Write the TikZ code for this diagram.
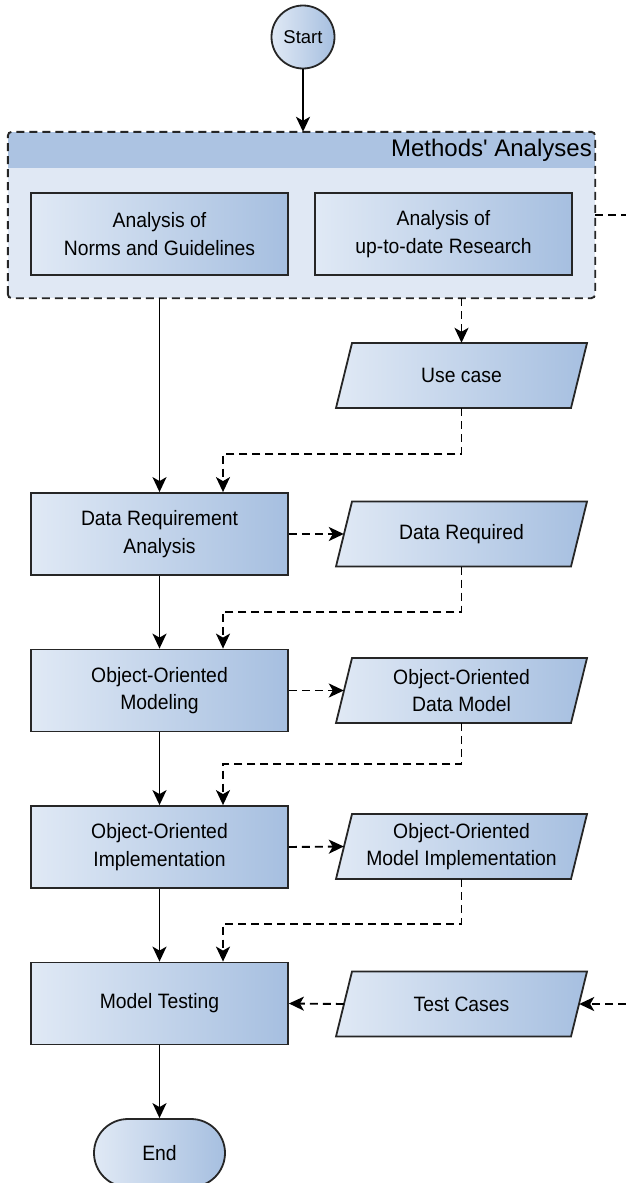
\documentclass[tikz,border=0pt]{standalone}
\usepackage{fontspec}
\setmainfont{Liberation Sans}[Ligatures=TeXOff]
\newfontfamily\bodyfont{Liberation Sans}[FakeStretch=0.93, Ligatures=TeXOff]
\usetikzlibrary{arrows.meta,calc}
\definecolor{lite}{RGB}{224,233,245}
\definecolor{dark}{RGB}{166,191,224}
\definecolor{bodyc}{RGB}{224,232,244}
\definecolor{headc}{RGB}{172,195,226}
\definecolor{edge}{RGB}{38,38,38}
\newcommand\paranode[4]{%
  \path[parashape] (#2-125.5,#3+32.5) -- (#2+109.5,#3+32.5) -- (#2+125.5,#3-32.5) -- (#2-109.5,#3-32.5) -- cycle;
  \node[paratext] (#1) at (#2,#3) {#4};}
\begin{document}
\begin{tikzpicture}[x=1pt,y=-1pt,
  txt/.style={font=\bodyfont\fontsize{20.8}{27.5}\selectfont, align=center, inner sep=0pt},
  shade/.style={left color=lite, right color=dark},
  box/.style={txt, shade, draw=edge, line width=1.8pt, minimum width=257pt, minimum height=82pt},
  parashape/.style={shade, draw=edge, line width=1.8pt, line join=miter},
  paratext/.style={txt, minimum width=235pt, minimum height=65pt},
  arr/.style={-{Stealth[length=15pt,width=14pt,inset=4pt]}, line width=1.9pt, draw=black},
  darr/.style={arr, dash pattern=on 8pt off 5pt}]
\clip (0,0) rectangle (626,1183);
\fill[white] (0,0) rectangle (626,1183);
% Start
\node[circle, shade, draw=edge, line width=1.8pt, minimum size=63pt, inner sep=0pt,
      font=\fontsize{18.5}{22}\selectfont] (start) at (303,37) {Start};
% container
\node[minimum width=587pt, minimum height=166pt, fill=bodyc, inner sep=0pt] (methods) at (301.5,215) {};
\begin{scope}
  \clip[rounded corners=4pt] (methods.south west) rectangle (methods.north east);
  \fill[headc] (methods.north west) rectangle ($(methods.north east)+(0,36)$);
\end{scope}
\draw[edge, line width=1.9pt, dash pattern=on 8pt off 5pt, rounded corners=4pt]
  (methods.south west) rectangle (methods.north east);
\node[anchor=east, inner sep=0pt, font=\fontsize{24}{28}\selectfont] (mtitle) at (592,150) {Methods' Analyses};
\node[box] (norms) at (159.5,234) {Analysis of\\Norms and Guidelines};
\node[box] (research) at (443.5,234) {Analysis of\\up-to-date Research};
% main column
\node[box] (dra) at (159.5,534) {Data Requirement\\Analysis};
\node[box] (oom) at (159.5,690.5) {Object-Oriented\\Modeling};
\node[box] (ooi) at (159.5,847) {Object-Oriented\\Implementation};
\node[box] (mt) at (159.5,1003.5) {Model Testing};
\node[txt, shade, draw=edge, line width=1.8pt, minimum width=131pt, minimum height=68pt,
      rounded corners=34pt] (end) at (159.5,1153) {End};
% data column
\paranode{usecase}{461.5}{375.5}{Use case}
\paranode{datareq}{461.5}{534}{Data Required}
\paranode{oodm}{461.5}{690.5}{Object-Oriented\\Data Model}
\paranode{oomi}{461.5}{846.5}{Object-Oriented\\Model Implementation}
\paranode{testcases}{461.5}{1004}{Test Cases}
% connectors
\draw[arr] (start.south) -- (methods.north -| start.south);
\draw[arr] (methods.south -| dra.north) -- (dra.north);
\draw[darr] (methods.south -| usecase.north) -- (usecase.north);
\draw[darr] (usecase.south) |- ($(dra.north)+(63.5,-38)$) -- ($(dra.north)+(63.5,0)$);
\draw[darr] (dra.east) -- (datareq.west);
\draw[darr] (datareq.south) |- ($(oom.north)+(63.5,-37)$) -- ($(oom.north)+(63.5,0)$);
\draw[arr] (dra.south) -- (oom.north);
\draw[darr] (oom.east) -- (oodm.west);
\draw[darr] (oodm.south) |- ($(ooi.north)+(63.5,-41)$) -- ($(ooi.north)+(63.5,0)$);
\draw[arr] (oom.south) -- (ooi.north);
\draw[darr] (ooi.east) -- (oomi.west);
\draw[darr] (oomi.south) |- ($(mt.north)+(63.5,-38)$) -- ($(mt.north)+(63.5,0)$);
\draw[arr] (ooi.south) -- (mt.north);
\draw[darr] (testcases.west) -- (mt.east);
\draw[darr] (methods.east) -- ++(50,0) |- (testcases.east);
\draw[arr] (mt.south) -- (end.north);
\end{tikzpicture}
\end{document}
